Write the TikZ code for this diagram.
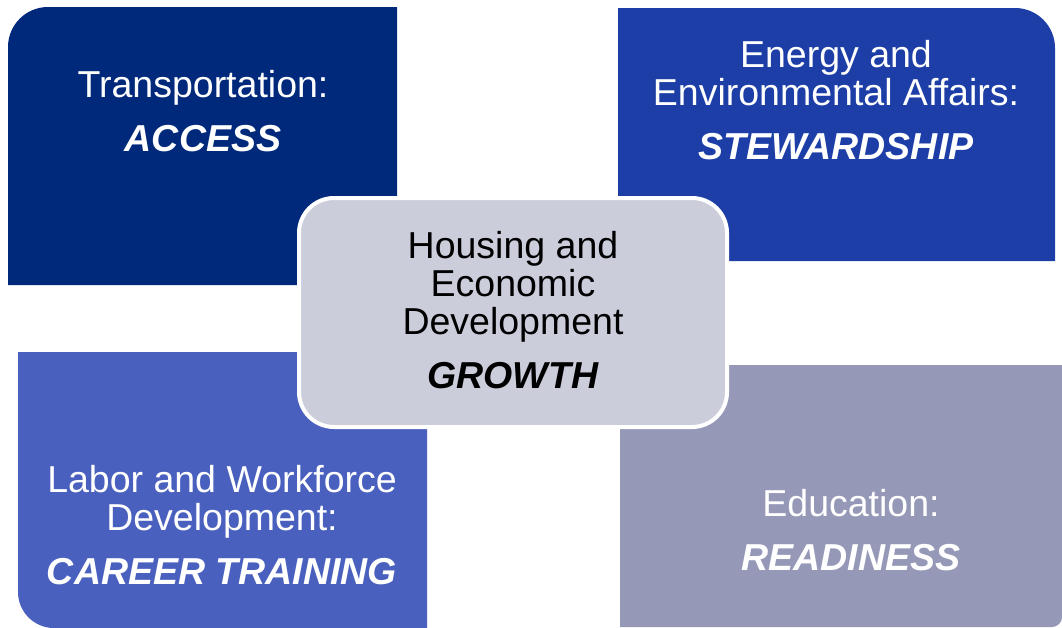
\documentclass[tikz,border=0pt]{standalone}
\usepackage{fontspec}
\setmainfont{Liberation Sans}
\usepackage{xcolor}
\definecolor{Col1}{RGB}{0,41,124}
\definecolor{Col2}{RGB}{28,62,166}
\definecolor{Col3}{RGB}{74,96,190}
\definecolor{Col4}{RGB}{149,153,183}
\definecolor{Col5}{RGB}{203,205,219}
\usepackage{tikz}
\tikzstyle{Label}=[align=center,anchor=north,inner sep=0pt,text=white,
font=\fontsize{37.5}{38}\selectfont]
\tikzstyle{Hub}=[rectangle,rounded corners=35pt,draw=white,line width=4pt,
fill=Col5,minimum width=428pt,minimum height=229pt,inner sep=0pt]
\newcommand{\Motto}[1]{\\[16pt]\textbf{\textit{#1}}}

\begin{document}
\begin{tikzpicture}[x=1pt,y=-1pt]
        \useasboundingbox (0,0) rectangle (1062,627);
        % the four quarters, one round corner each
        \fill[Col1] (8,146) [rounded corners=40pt] -- (8,7) -- (202,7)
            [sharp corners] -- (397,7) -- (397,285) -- (8,285) -- cycle;
        \fill[Col2] (1055,134) [rounded corners=40pt] -- (1055,8) -- (836,8)
            [sharp corners] -- (618,8) -- (618,261) -- (1055,261) -- cycle;
        \fill[Col3] (18,490) [rounded corners=36pt] -- (18,628) -- (222,628)
            [sharp corners] -- (427,628) -- (427,352) -- (18,352) -- cycle;
        \fill[Col4] (1062,496) [rounded corners=10pt] -- (1062,627) -- (841,627)
            [sharp corners] -- (620,627) -- (620,365) -- (1062,365) -- cycle;
        \node[Label](trans)at(203,70)
            {Transportation:\Motto{ACCESS}};
        \node[Label](energy)at(836,40)
            {Energy and\\Environmental Affairs:\Motto{STEWARDSHIP}};
        \node[Label](labor)at(222,465)
            {Labor and Workforce\\Development:\Motto{CAREER TRAINING}};
        \node[Label](educ)at(851,489)
            {Education:\Motto{READINESS}};
        % centre
        \node[Hub](hub)at(513,312.5){};
        \node[Label,text=black](housing)at(513,231)
            {Housing and\\Economic\\Development\Motto{GROWTH}};
    \end{tikzpicture}
\end{document}
